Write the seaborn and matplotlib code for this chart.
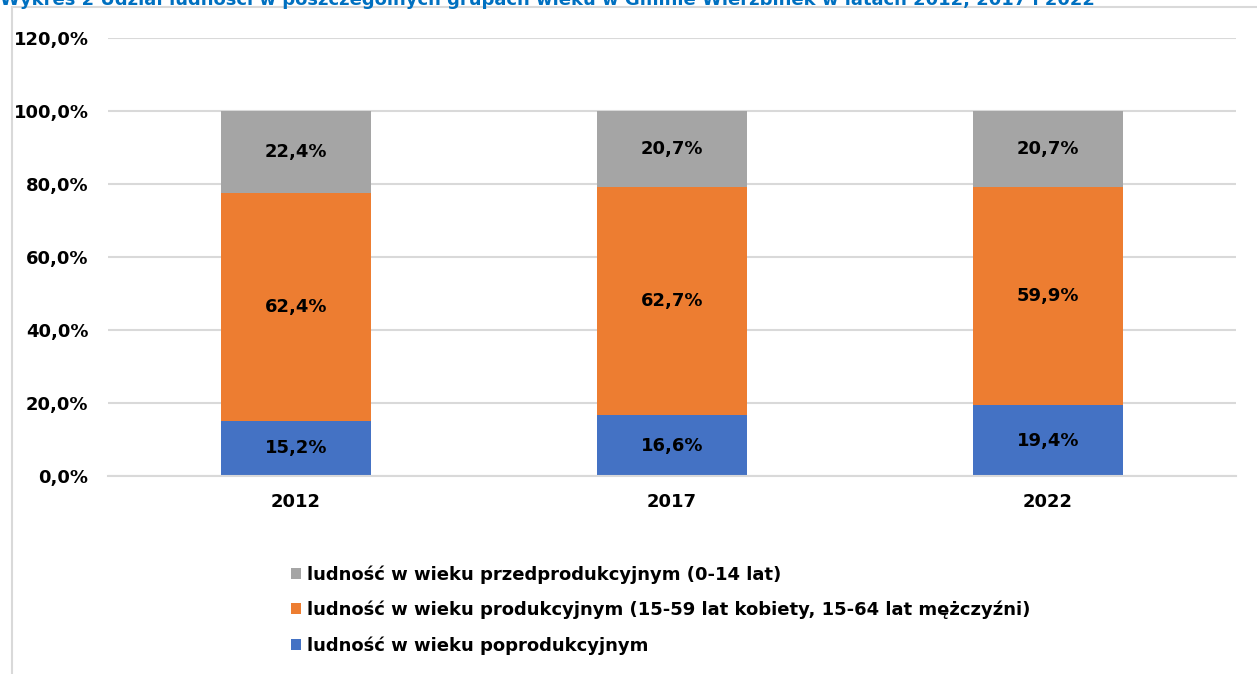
import pandas as pd
import matplotlib.pyplot as plt
import seaborn as sns
from matplotlib.lines import Line2D
from matplotlib.patches import Patch
from matplotlib.ticker import FuncFormatter

sns.set_theme(style="white")
plt.rcParams["font.family"] = ["DejaVu Sans"]
plt.rcParams["text.color"] = "black"
plt.rcParams["xtick.color"] = "black"
plt.rcParams["ytick.color"] = "black"

years = ["2012", "2017", "2022"]
post_prod = [15.2, 16.6, 19.4]
prod = [62.4, 62.7, 59.9]
pre_prod = [22.4, 20.7, 20.7]

series_names = [
    "ludność w wieku przedprodukcyjnym (0-14 lat)",
    "ludność w wieku produkcyjnym (15-59 lat kobiety, 15-64 lat mężczyźni)",
    "ludność w wieku poprodukcyjnym",
]
colors = ["#A5A5A5", "#ED7D31", "#4472C4"]
title = ("Wykres 2 Udział ludności w poszczególnych grupach wieku "
         "w Gminie Wierzbinek w latach 2012, 2017 i 2022")


def build_frame():
    df = pd.DataFrame({"year": years, "post": post_prod, "prod": prod, "pre": pre_prod})
    df["top_post"] = df["post"]
    df["top_prod"] = df["post"] + df["prod"]
    df["top_pre"] = df["top_prod"] + df["pre"]
    return df


def plot_stacked(df, ax):
    # draw from the tallest stack down so lower segments sit on top
    layers = [("top_pre", "pre", colors[0]), ("top_prod", "prod", colors[1]), ("top_post", "post", colors[2])]
    for top_col, val_col, color in layers:
        sns.barplot(data=df, x="year", y=top_col, color=color, width=0.4,
                    saturation=1, edgecolor="none", ax=ax)
        for i, row in df.iterrows():
            ax.text(i, row[top_col] - row[val_col] / 2, f"{row[val_col]:.1f}%".replace(".", ","),
                    ha="center", va="center", fontsize=13, fontweight="bold", color="black")


fig = plt.figure(figsize=(12.57, 6.74), dpi=100)
ax = fig.add_axes([108 / 1257, 1 - 476 / 674, 1128 / 1257, 438 / 674])

df = build_frame()
plot_stacked(df, ax)

ax.set_xlim(-0.5, 2.5)
ax.set_ylim(0, 120)
ax.set_yticks(range(0, 121, 20))
ax.yaxis.set_major_formatter(FuncFormatter(lambda y, _: f"{y:.1f}%".replace(".", ",")))
ax.grid(axis="y", color="#D9D9D9", linewidth=1.5)
ax.set_axisbelow(True)
for side in ["top", "right", "left"]:
    ax.spines[side].set_visible(False)
ax.spines["bottom"].set_color("#D9D9D9")
ax.spines["bottom"].set_linewidth(1.5)
ax.set_xlabel("")
ax.set_ylabel("")
ax.tick_params(axis="y", length=0, labelsize=13, pad=14, labelcolor="black")
ax.tick_params(axis="x", length=0, labelsize=13, pad=12, labelcolor="black")
for lbl in ax.get_xticklabels() + ax.get_yticklabels():
    lbl.set_fontweight("bold")
ax.set_xticks([-0.5, 0.5, 1.5, 2.5], minor=True)
ax.tick_params(axis="x", which="minor", length=6, color="#D9D9D9", width=1.5, direction="out")

# outer chart frame
fig.add_artist(Line2D([12 / 1257, 12 / 1257], [0, 1 - 7 / 674], color="#D9D9D9", lw=1.5))
fig.add_artist(Line2D([12 / 1257, 1], [1 - 7 / 674, 1 - 7 / 674], color="#D9D9D9", lw=1.5))

fig.text(0, 1 - 5 / 674, title, ha="left", va="baseline", fontsize=13,
         fontweight="bold", color="#0070C0")

handles = [Patch(facecolor=c, edgecolor="none") for c in colors]
leg = fig.legend(handles, series_names, loc="upper left", bbox_to_anchor=(282 / 1257, 1 - 556 / 674),
                 frameon=False, prop={"size": 13, "weight": "bold"}, handlelength=0.55,
                 handleheight=0.55, handletextpad=0.35, labelspacing=0.95, borderpad=0)
for t in leg.get_texts():
    t.set_color("black")

fig.savefig("out.png", dpi=100)
